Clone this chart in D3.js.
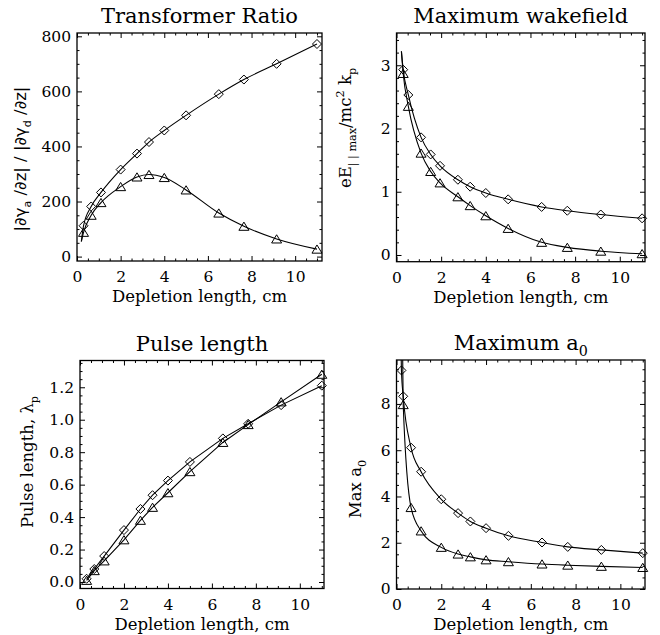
<!DOCTYPE html>
<html>
<head>
<meta charset="utf-8">
<script src="https://cdn.jsdelivr.net/npm/d3@7"></script>
<style>
  body { margin: 0; background: #fff; }
  svg text { font-family: "DejaVu Serif", serif; fill: #000; }
  svg text.sans { font-family: "DejaVu Sans", sans-serif; }
</style>
</head>
<body>
<svg id="chart" width="660" height="635"></svg>
<script>

// depletion length (cm) ticks, shared by all four panels
var xTicks = [0, 2, 4, 6, 8, 10];

// Transformer ratio
var ratioX = [0.3, 0.65, 1.1, 2.0, 2.75, 3.3, 4.0, 5.0, 6.5, 7.65, 9.15, 11.0];
var ratioDiamond = [112, 182, 233, 316, 374, 416, 458, 513, 590, 643, 700, 772];
var ratioTriangle = [88, 150, 196, 254, 289, 298, 287, 242, 158, 110, 64, 27];
var ratioStart = [0.2, 55];
var ratioTicks = [0, 200, 400, 600, 800];

// Maximum wakefield
var wakeX = [0.3, 0.53, 1.1, 1.53, 1.95, 2.75, 3.3, 4.0, 5.0, 6.5, 7.65, 9.15, 11.0];
var wakeDiamond = [2.93, 2.53, 1.86, 1.59, 1.41, 1.19, 1.08, 0.98, 0.88, 0.76, 0.70, 0.64, 0.58];
var wakeTriangle = [2.87, 2.35, 1.61, 1.32, 1.14, 0.92, 0.78, 0.62, 0.42, 0.20, 0.12, 0.06, 0.02];
var wakeStart = [0.22, 3.22];
var wakeTicks = [0, 1, 2, 3];

// Pulse length
var pulseX = [0.3, 0.65, 1.1, 2.0, 2.75, 3.3, 4.0, 5.0, 6.5, 7.65, 9.15, 11.0];
var pulseDiamond = [0.02, 0.08, 0.16, 0.32, 0.45, 0.535, 0.625, 0.74, 0.885, 0.975, 1.09, 1.21];
var pulseTriangle = [0.01, 0.07, 0.13, 0.26, 0.38, 0.46, 0.55, 0.68, 0.86, 0.97, 1.11, 1.28];
var pulseTicks = [0, 0.2, 0.4, 0.6, 0.8, 1.0, 1.2];

// Maximum a0
var a0DiamondX = [0.22, 0.3, 0.65, 1.1, 2.0, 2.75, 3.3, 4.0, 5.0, 6.5, 7.65, 9.15, 11.0];
var a0Diamond = [9.45, 8.33, 6.11, 5.07, 3.88, 3.28, 2.92, 2.63, 2.30, 2.01, 1.82, 1.69, 1.55];
var a0TriangleX = [0.3, 0.65, 1.1, 2.0, 2.75, 3.3, 4.0, 5.0, 6.5, 7.65, 9.15, 11.0];
var a0Triangle = [7.97, 3.52, 2.51, 1.80, 1.51, 1.39, 1.26, 1.18, 1.08, 1.03, 0.98, 0.93];
var a0DiamondStart = [0.2, 10.5];
var a0TriangleStart = [0.27, 10.5];
var a0Ticks = [0, 2, 4, 6, 8];

var svg = d3.select("#chart");
var SERIF = "'DejaVu Serif', serif";

var diamondPath = "M0,-4.5L4.5,0L0,4.5L-4.5,0Z";
var trianglePath = "M-5,4L5,4L0,-4.2Z";

function pairs(xs, ys) {
  return xs.map(function (d, i) { return { x: d, y: ys[i] }; });
}

// text with sub/superscripts: parts = [[string, "sub" | "sup" | null], ...]
function richText(text, parts, size) {
  var shift = 0;
  parts.forEach(function (p) {
    var want = p[1] === "sub" ? size * 0.3 : p[1] === "sup" ? -size * 0.42 : 0;
    text.append("tspan")
      .attr("dy", want - shift)
      .attr("font-size", p[1] ? size * 0.68 : size)
      .text(p[0]);
    shift = want;
  });
}

function minorValues(max, step, majorStep) {
  return d3.range(0, max, step).filter(function (v) {
    var r = v / majorStep;
    return Math.abs(r - Math.round(r)) > 1e-6;
  });
}

// put an axis (major or minor) on the frame, with the ticks pointing inwards
function addAxis(g, axis, translate, labelled) {
  var a = g.append("g")
    .attr("transform", "translate(" + translate + ")")
    .call(axis);
  a.select(".domain").remove();
  a.selectAll(".tick line").attr("stroke-width", 1);
  if (labelled) {
    a.selectAll("text")
      .style("font-family", SERIF)
      .style("font-size", "15.5px");
  }
  return a;
}

function drawPanel(cfg) {
  var x = d3.scaleLinear().domain([0, cfg.xMax]).range([cfg.left, cfg.right]);
  var y = d3.scaleLinear().domain(cfg.yDomain).range([cfg.bottom, cfg.top]);
  var g = svg.append("g");

  g.append("clipPath")
    .attr("id", cfg.id + "-clip")
    .append("rect")
    .attr("x", cfg.left)
    .attr("y", cfg.top)
    .attr("width", cfg.right - cfg.left)
    .attr("height", cfg.bottom - cfg.top);

  var xMinor = minorValues(cfg.xMax, 0.5, 2);
  var yMinor = minorValues(cfg.yDomain[1], cfg.yMinorStep, cfg.yMajorStep);

  addAxis(g, d3.axisBottom(x).tickValues(xTicks).tickSize(-5).tickPadding(10), "0," + cfg.bottom, true);
  addAxis(g, d3.axisBottom(x).tickValues(xMinor).tickSize(-2.5).tickFormat(""), "0," + cfg.bottom);
  addAxis(g, d3.axisTop(x).tickValues(xTicks).tickSize(-5).tickFormat(""), "0," + cfg.top);
  addAxis(g, d3.axisTop(x).tickValues(xMinor).tickSize(-2.5).tickFormat(""), "0," + cfg.top);

  addAxis(g, d3.axisLeft(y).tickValues(cfg.yTicks).tickSize(-5).tickPadding(6).tickFormat(cfg.yFormat), cfg.left + ",0", true);
  addAxis(g, d3.axisLeft(y).tickValues(yMinor).tickSize(-2.5).tickFormat(""), cfg.left + ",0");
  addAxis(g, d3.axisRight(y).tickValues(cfg.yTicks).tickSize(-5).tickFormat(""), cfg.right + ",0");
  addAxis(g, d3.axisRight(y).tickValues(yMinor).tickSize(-2.5).tickFormat(""), cfg.right + ",0");

  g.append("rect")
    .attr("x", cfg.left)
    .attr("y", cfg.top)
    .attr("width", cfg.right - cfg.left)
    .attr("height", cfg.bottom - cfg.top)
    .attr("fill", "none")
    .attr("stroke", "#000")
    .attr("stroke-width", 1.3);

  var lineFunc = d3.line()
    .x(function (d) { return x(d.x); })
    .y(function (d) { return y(d.y); })
    .curve(cfg.curve);

  cfg.series.forEach(function (s) {
    var lineData = s.start ? [{ x: s.start[0], y: s.start[1] }].concat(s.points) : s.points;
    g.append("path")
      .attr("d", lineFunc(lineData))
      .attr("clip-path", "url(#" + cfg.id + "-clip)")
      .attr("fill", "none")
      .attr("stroke", "#000")
      .attr("stroke-width", 1.1);

    g.selectAll(null)
      .data(s.points)
      .enter()
      .append("path")
      .attr("d", s.symbol)
      .attr("transform", function (d) { return "translate(" + x(d.x) + "," + y(d.y) + ")"; })
      .attr("fill", "none")
      .attr("stroke", "#000")
      .attr("stroke-width", 1);
  });

  var mid = (cfg.left + cfg.right) / 2;

  var title = g.append("text")
    .attr("x", mid)
    .attr("y", cfg.top - 10)
    .attr("text-anchor", "middle")
    .style("font-family", SERIF);
  richText(title, cfg.title, 21);

  g.append("text")
    .attr("x", mid)
    .attr("y", cfg.bottom + 41)
    .attr("text-anchor", "middle")
    .style("font-family", SERIF)
    .style("font-size", "16.5px")
    .text("Depletion length, cm");

  var yTitle = g.append("text")
    .attr("class", cfg.yTitleSans ? "sans" : null)
    .attr("transform", "translate(" + cfg.yTitleX + "," + cfg.yTitleY + ") rotate(-90)")
    .attr("text-anchor", "middle");
  richText(yTitle, cfg.yTitle, 16.5);
}

drawPanel({
  id: "ratio",
  left: 77, right: 322, top: 33, bottom: 261,
  xMax: 11.23, yDomain: [-16, 812],
  yTicks: ratioTicks, yMajorStep: 200, yMinorStep: 50,
  yFormat: d3.format("d"),
  curve: d3.curveMonotoneX,
  title: [["Transformer Ratio", null]],
  yTitle: [["|\u2202\u03b3", null], ["a", "sub"], [" /\u2202z| / |\u2202\u03b3", null], ["d", "sub"], [" /\u2202z|", null]],
  yTitleSans: true,
  yTitleX: 26, yTitleY: 159,
  series: [
    { points: pairs(ratioX, ratioDiamond), symbol: diamondPath, start: ratioStart },
    { points: pairs(ratioX, ratioTriangle), symbol: trianglePath, start: ratioStart }
  ]
});

drawPanel({
  id: "wake",
  left: 396.5, right: 645, top: 33, bottom: 261.7,
  xMax: 11.13, yDomain: [-0.106, 3.51],
  yTicks: wakeTicks, yMajorStep: 1, yMinorStep: 0.2,
  yFormat: d3.format("d"),
  curve: d3.curveMonotoneX,
  title: [["Maximum wakefield", null]],
  yTitle: [["eE", null], ["| | max", "sub"], ["/mc", null], ["2", "sup"], [" k", null], ["p", "sub"]],
  yTitleX: 351, yTitleY: 128,
  series: [
    { points: pairs(wakeX, wakeDiamond), symbol: diamondPath, start: wakeStart },
    { points: pairs(wakeX, wakeTriangle), symbol: trianglePath, start: wakeStart }
  ]
});

drawPanel({
  id: "pulse",
  left: 80, right: 324, top: 360.5, bottom: 588.5,
  xMax: 11.1, yDomain: [-0.04, 1.365],
  yTicks: pulseTicks, yMajorStep: 0.2, yMinorStep: 0.05,
  yFormat: d3.format(".1f"),
  curve: d3.curveLinear,
  title: [["Pulse length", null]],
  yTitle: [["Pulse length, \u03bb", null], ["p", "sub"]],
  yTitleX: 33, yTitleY: 462,
  series: [
    { points: pairs(pulseX, pulseDiamond), symbol: diamondPath },
    { points: pairs(pulseX, pulseTriangle), symbol: trianglePath }
  ]
});

drawPanel({
  id: "a0",
  left: 396.5, right: 645, top: 360, bottom: 589,
  xMax: 11.1, yDomain: [0, 9.9],
  yTicks: a0Ticks, yMajorStep: 2, yMinorStep: 0.5,
  yFormat: d3.format("d"),
  curve: d3.curveMonotoneX,
  title: [["Maximum a", null], ["0", "sub"]],
  yTitle: [["Max a", null], ["0", "sub"]],
  yTitleX: 361, yTitleY: 489,
  series: [
    { points: pairs(a0DiamondX, a0Diamond), symbol: diamondPath, start: a0DiamondStart },
    { points: pairs(a0TriangleX, a0Triangle), symbol: trianglePath, start: a0TriangleStart }
  ]
});

</script>
</body>
</html>
